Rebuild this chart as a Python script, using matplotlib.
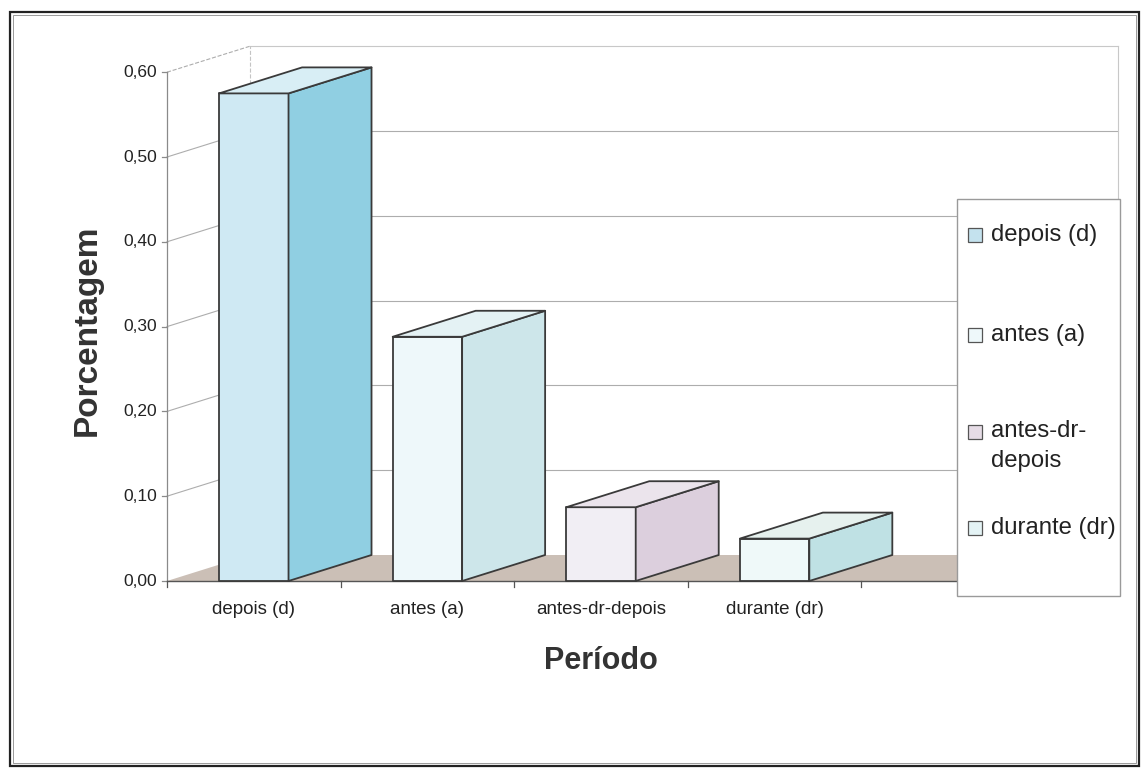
import matplotlib
matplotlib.use("Agg")
import matplotlib.pyplot as plt
from matplotlib.patches import Polygon, Rectangle

plt.rcParams['font.family'] = ['Liberation Sans', 'DejaVu Sans']

# ---- data -------------------------------------------------------------
categories = ["depois (d)", "antes (a)", "antes-dr-depois", "durante (dr)"]
legend_labels = ["depois (d)", "antes (a)", "antes-dr-\ndepois", "durante (dr)"]
values = [0.575, 0.288, 0.087, 0.050]
y_ticks = [0.0, 0.1, 0.2, 0.3, 0.4, 0.5, 0.6]
y_tick_labels = ["0,00", "0,10", "0,20", "0,30", "0,40", "0,50", "0,60"]

# face colours per series: front, side, top
front_colors = ["#cfe9f3", "#eef8fa", "#f1eef4", "#eff9f9"]
side_colors = ["#90cfe2", "#cde6ea", "#dccfdd", "#bfe1e4"]
top_colors = ["#d8eef5", "#e4f2f4", "#ebe4ec", "#e6f1ee"]
swatch_colors = ["#c4e2ee", "#eef8fa", "#e6dce6", "#e4f3f5"]

# ---- layout ------------------------------------------------------------
W, H = 1148, 775
n_slots = 5            # category slots along the floor
px_slot = 173.6        # pixels per category slot
px_unit = 848.0        # pixels per 1.0 of value
x_origin, y_origin = 167, 581
depth_x = 83 / px_slot     # oblique depth offset in data units
depth_y = 26 / px_unit
bar_w = 0.4
edge = "#3a3a3a"
grid_c = "#adadad"

fig = plt.figure(figsize=(W / 100, H / 100), dpi=100)
ax = fig.add_axes([0, 0, 1, 1])
ax.set_xlim(-x_origin / px_slot, (W - x_origin) / px_slot)
ax.set_ylim(-(H - y_origin) / px_unit, y_origin / px_unit)
ax.axis("off")

ymax = y_ticks[-1]

# side wall and back wall gridlines
for v in y_ticks[1:]:
    ls = "--" if v == ymax else "-"
    ax.plot([0, depth_x], [v, v + depth_y], color=grid_c, lw=0.8, ls=ls, zorder=1)
    ax.plot([depth_x, n_slots + depth_x], [v + depth_y, v + depth_y],
            color="#c8c8c8" if v == ymax else grid_c, lw=0.8, zorder=1)
ax.plot([depth_x, depth_x], [depth_y, ymax + depth_y], color="#c4c4c4",
        lw=0.8, ls="--", zorder=1)
ax.plot([n_slots + depth_x] * 2, [depth_y, ymax + depth_y], color="#c8c8c8",
        lw=0.8, zorder=1)

# floor
floor = Polygon([(0, 0), (n_slots, 0), (n_slots + depth_x, depth_y),
                 (depth_x, depth_y)], closed=True, facecolor="#cbbfb6",
                edgecolor="none", zorder=2)
ax.add_patch(floor)

# value axis
ax.plot([0, 0], [0, ymax], color="#8a8a8a", lw=0.9, zorder=3)
for v, lab in zip(y_ticks, y_tick_labels):
    ax.plot([-5 / px_slot, 0], [v, v], color="#8a8a8a", lw=0.9, zorder=3)
    ax.text(-10 / px_slot, v, lab, ha="right", va="center", fontsize=12.5,
            color="#222222")

# category axis
ax.plot([0, n_slots], [0, 0], color="#555555", lw=1.0, zorder=3)
for i in range(n_slots + 1):
    ax.plot([i, i], [0, -6 / px_unit], color="#555555", lw=0.9, zorder=3)
for i, lab in enumerate(categories):
    ax.text(i + 0.5, -28 / px_unit, lab, ha="center", va="center",
            fontsize=13.5, color="#222222")

# 3-D style bars
for i, v in enumerate(values):
    x0 = i + 0.5 - bar_w / 2
    x1 = i + 0.5 + bar_w / 2
    front = Polygon([(x0, 0), (x1, 0), (x1, v), (x0, v)], closed=True,
                    facecolor=front_colors[i], edgecolor=edge, lw=1.3,
                    joinstyle="round", zorder=5)
    side = Polygon([(x1, 0), (x1 + depth_x, depth_y), (x1 + depth_x, v + depth_y),
                    (x1, v)], closed=True, facecolor=side_colors[i],
                   edgecolor=edge, lw=1.3, joinstyle="round", zorder=5)
    top = Polygon([(x0, v), (x1, v), (x1 + depth_x, v + depth_y),
                   (x0 + depth_x, v + depth_y)], closed=True,
                  facecolor=top_colors[i], edgecolor=edge, lw=1.3,
                  joinstyle="round", zorder=5)
    for p in (front, side, top):
        ax.add_patch(p)

# axis titles
ax.text(n_slots / 2, -80 / px_unit, "Período", ha="center", va="center",
        fontsize=22, fontweight="bold", color="#333333")
ax.text(-80 / px_slot, ymax / 2 - 4 / px_unit, "Porcentagem", ha="center",
        va="center", rotation=90, fontsize=24, fontweight="bold",
        color="#333333")


def fx(px):
    return px / W


def fy(py):
    return 1 - py / H


# legend box
fig.patches.append(Rectangle((fx(957), fy(596)), fx(1120) - fx(957),
                             fy(199) - fy(596), transform=fig.transFigure,
                             facecolor="white", edgecolor="#9a9a9a", lw=1.0,
                             zorder=10))
entry_y = [235, 335, 432, 528]
for lab, c, ey in zip(legend_labels, swatch_colors, entry_y):
    fig.patches.append(Rectangle((fx(968), fy(ey + 7)), fx(14), 14 / H,
                                 transform=fig.transFigure, facecolor=c,
                                 edgecolor="#555555", lw=0.9, zorder=11))
    if "\n" in lab:
        fig.text(fx(991), fy(ey - 12), lab, ha="left", va="top",
                 fontsize=17.2, color="#222222", linespacing=1.45, zorder=12)
    else:
        fig.text(fx(991), fy(ey), lab, ha="left", va="center",
                 fontsize=17.2, color="#222222", zorder=12)

# chart frame
fig.patches.append(Rectangle((fx(10), fy(766)), fx(1139) - fx(10),
                             fy(12) - fy(766), transform=fig.transFigure,
                             facecolor="none", edgecolor="#222222", lw=1.6,
                             zorder=20))
fig.patches.append(Rectangle((fx(13), fy(763)), fx(1136) - fx(13),
                             fy(15) - fy(763), transform=fig.transFigure,
                             facecolor="none", edgecolor="#9a9a9a", lw=0.7,
                             zorder=20))

fig.savefig("out.png", dpi=100)
